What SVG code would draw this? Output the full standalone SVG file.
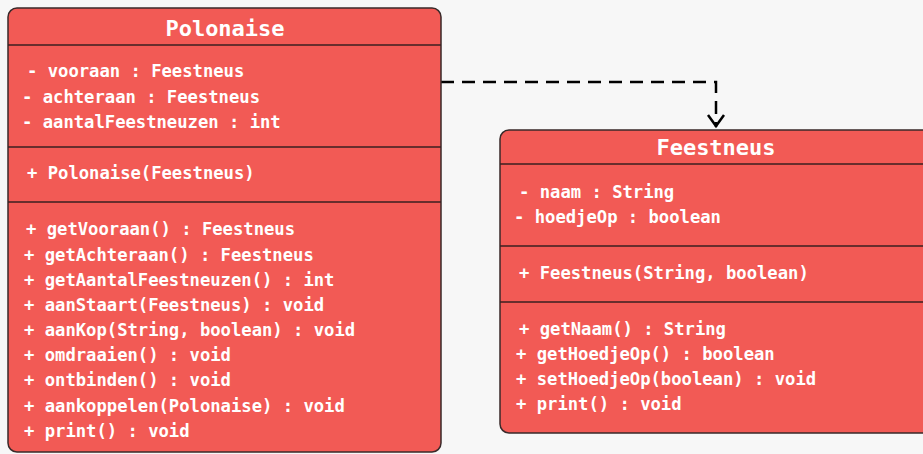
<svg xmlns="http://www.w3.org/2000/svg" width="923" height="454" viewBox="0 0 923 454">
  <style>
    .box { fill: #f25a55; stroke: #3a2a2a; stroke-width: 1.5; }
    .sep { stroke: #3a2020; stroke-width: 1.5; }
    .title { font-family: "DejaVu Sans Mono", "Liberation Mono", monospace; font-weight: bold; font-size: 22px; fill: #ffffff; text-anchor: middle; }
    .member { font-family: "DejaVu Sans Mono", "Liberation Mono", monospace; font-weight: bold; font-size: 17.2px; fill: #ffffff; }
    .dep { fill: none; stroke: #000000; stroke-width: 2.5; }
  </style>
  <rect width="923" height="454" fill="#f7f7f7"/>

  <!-- dependency: Polonaise uses Feestneus -->
  <g id="connectors">
    <path class="dep" d="M441,82 H716 V127" stroke-dasharray="13,8"/>
    <path d="M708,115 L716,126 L724,115" fill="none" stroke="#000" stroke-width="2.5"/>
  </g>

  <!-- class Polonaise -->
  <g id="polonaise">
    <rect class="box" x="8" y="8" width="433" height="444" rx="9"/>
    <line class="sep" x1="8" y1="45" x2="441" y2="45"/>
    <line class="sep" x1="8" y1="147" x2="441" y2="147"/>
    <line class="sep" x1="8" y1="202" x2="441" y2="202"/>
    <text class="title" x="225" y="36">Polonaise</text>
    <text class="member" x="27" y="77">- vooraan : Feestneus</text>
    <text class="member" x="22" y="103">- achteraan : Feestneus</text>
    <text class="member" x="22" y="128">- aantalFeestneuzen : int</text>
    <text class="member" x="27" y="179">+ Polonaise(Feestneus)</text>
    <text class="member" x="26" y="235">+ getVooraan() : Feestneus</text>
    <text class="member" x="24" y="261">+ getAchteraan() : Feestneus</text>
    <text class="member" x="24" y="286">+ getAantalFeestneuzen() : int</text>
    <text class="member" x="24" y="311">+ aanStaart(Feestneus) : void</text>
    <text class="member" x="24" y="336">+ aanKop(String, boolean) : void</text>
    <text class="member" x="24" y="361">+ omdraaien() : void</text>
    <text class="member" x="24" y="386">+ ontbinden() : void</text>
    <text class="member" x="24" y="412">+ aankoppelen(Polonaise) : void</text>
    <text class="member" x="24" y="437">+ print() : void</text>
  </g>

  <!-- class Feestneus -->
  <g id="feestneus">
    <rect class="box" x="500" y="130" width="433" height="303" rx="9"/>
    <line class="sep" x1="500" y1="164" x2="933" y2="164"/>
    <line class="sep" x1="500" y1="246" x2="933" y2="246"/>
    <line class="sep" x1="500" y1="302" x2="933" y2="302"/>
    <text class="title" x="716" y="155">Feestneus</text>
    <text class="member" x="519" y="198">- naam : String</text>
    <text class="member" x="514" y="223">- hoedjeOp : boolean</text>
    <text class="member" x="519" y="279">+ Feestneus(String, boolean)</text>
    <text class="member" x="519" y="335">+ getNaam() : String</text>
    <text class="member" x="516" y="360">+ getHoedjeOp() : boolean</text>
    <text class="member" x="516" y="385">+ setHoedjeOp(boolean) : void</text>
    <text class="member" x="516" y="410">+ print() : void</text>
  </g>
</svg>
